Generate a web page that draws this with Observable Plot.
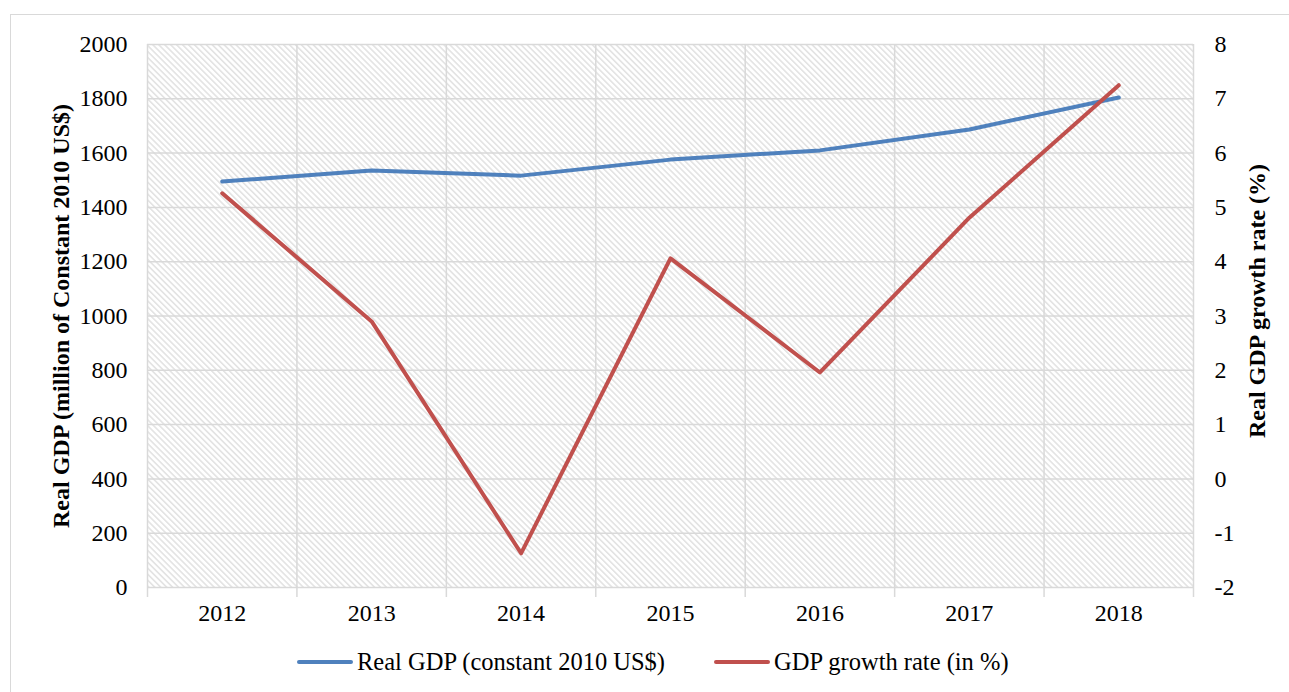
<!DOCTYPE html>
<html>
<head>
<meta charset="utf-8">
<script src="https://cdn.jsdelivr.net/npm/d3@7"></script>
<script src="https://cdn.jsdelivr.net/npm/@observablehq/plot@0.6"></script>
<style>
  html, body { margin: 0; padding: 0; background: #fff; width: 1289px; height: 692px; overflow: hidden; }
  #frame { position: absolute; left: 10px; top: 14px; width: 1320px; height: 720px; border: 1.5px solid #d9d9d9; box-sizing: border-box; }
  #chart { position: absolute; left: 0; top: 0; }
  #legend { position: absolute; left: 297px; top: 648px; display: flex; align-items: center; font-family: "Liberation Serif", "Times New Roman", serif; font-size: 24.5px; color: #000; white-space: nowrap; }
  .item { display: flex; align-items: center; }
  .swatch { width: 56px; height: 4px; border-radius: 2px; margin-right: 4px; }
</style>
</head>
<body>
<div id="frame"></div>
<div id="chart"></div>
<div id="legend"></div>
<script>
const years = [2012, 2013, 2014, 2015, 2016, 2017, 2018];
const realGDP = [1495, 1536, 1517, 1576, 1610, 1687, 1805];
const growthRate = [5.26, 2.90, -1.37, 4.06, 1.96, 4.81, 7.25];
const leftTicks = [0, 200, 400, 600, 800, 1000, 1200, 1400, 1600, 1800, 2000];
const rightTicks = [-2, -1, 0, 1, 2, 3, 4, 5, 6, 7, 8];
const xBoundaries = [2011.5, 2012.5, 2013.5, 2014.5, 2015.5, 2016.5, 2017.5, 2018.5];
const seriesNames = ["Real GDP (constant 2010 US$)", "GDP growth rate (in %)"];
const seriesColors = ["#4f81bd", "#c0504d"];
const leftTitle = "Real GDP (million of Constant 2010 US$)";
const rightTitle = "Real GDP growth rate (%)";

// map right-axis values (-2..8) onto left scale (0..2000)
const toLeft = v => (v + 2) * 200;
const fromLeft = v => v / 200 - 2;

const gdpData = years.map((y, i) => ({year: y, value: realGDP[i]}));
const growthData = years.map((y, i) => ({year: y, value: toLeft(growthRate[i])}));

const grid = "#d9d9d9";

const chart = Plot.plot({
  width: 1289,
  height: 640,
  marginLeft: 147,
  marginRight: 96,
  marginTop: 44,
  marginBottom: 53,
  style: {fontFamily: "'Liberation Serif', 'Times New Roman', serif", fontSize: "24px", color: "#000", background: "transparent"},
  x: {type: "linear", domain: [2011.5, 2018.5]},
  y: {domain: [0, 2000]},
  marks: [
    Plot.frame({fill: "url(#hatch)", stroke: null}),
    Plot.gridY(leftTicks, {stroke: grid, strokeOpacity: 1, strokeWidth: 1.5}),
    Plot.gridX(xBoundaries, {stroke: grid, strokeOpacity: 1, strokeWidth: 1.5}),
    Plot.axisX(xBoundaries, {tickSize: 10, tickFormat: () => "", stroke: grid, strokeWidth: 1.5, label: null}),
    Plot.axisX(years, {tickSize: 0, tickPadding: 16, tickFormat: d => String(d), label: null, fill: "#000"}),
    Plot.axisY(leftTicks, {anchor: "left", tickSize: 0, tickPadding: 20, tickFormat: d => String(d), label: null, fill: "#000"}),
    Plot.axisY(rightTicks.map(toLeft), {anchor: "right", tickSize: 0, tickPadding: 21, tickFormat: d => String(Math.round(fromLeft(d))), label: null, fill: "#000"}),
    Plot.line(gdpData, {x: "year", y: "value", stroke: seriesColors[0], strokeWidth: 4, strokeLinecap: "round", strokeLinejoin: "round"}),
    Plot.line(growthData, {x: "year", y: "value", stroke: seriesColors[1], strokeWidth: 4, strokeLinecap: "round", strokeLinejoin: "round"}),
    Plot.text([leftTitle], {text: d => d, frameAnchor: "left", textAnchor: "middle", dx: -86, rotate: -90, fontWeight: "bold", fontSize: 24, fill: "#000"}),
    Plot.text([rightTitle], {text: d => d, frameAnchor: "right", textAnchor: "middle", dx: 64, dy: -15, rotate: -90, fontWeight: "bold", fontSize: 24, fill: "#000"})
  ]
});

// hatch pattern definition
const ns = "http://www.w3.org/2000/svg";
const defs = document.createElementNS(ns, "defs");
const pat = document.createElementNS(ns, "pattern");
pat.setAttribute("id", "hatch");
pat.setAttribute("patternUnits", "userSpaceOnUse");
pat.setAttribute("width", "4.2");
pat.setAttribute("height", "4.2");
pat.setAttribute("patternTransform", "rotate(-45)");
const bg = document.createElementNS(ns, "rect");
bg.setAttribute("width", "4.2"); bg.setAttribute("height", "4.2"); bg.setAttribute("fill", "#fff");
const ln = document.createElementNS(ns, "rect");
ln.setAttribute("x", "0"); ln.setAttribute("y", "0"); ln.setAttribute("width", "1.6"); ln.setAttribute("height", "4.2"); ln.setAttribute("fill", "#e3e3e3");
pat.appendChild(bg); pat.appendChild(ln);
defs.appendChild(pat);
chart.insertBefore(defs, chart.firstChild);

document.getElementById("chart").appendChild(chart);

// legend
const legend = document.getElementById("legend");
seriesNames.forEach((name, i) => {
  const item = document.createElement("div");
  item.className = "item";
  if (i > 0) item.style.marginLeft = "49px";
  const sw = document.createElement("div");
  sw.className = "swatch";
  sw.style.background = seriesColors[i];
  const tx = document.createElement("span");
  tx.textContent = name;
  item.appendChild(sw); item.appendChild(tx);
  legend.appendChild(item);
});
</script>
</body>
</html>
